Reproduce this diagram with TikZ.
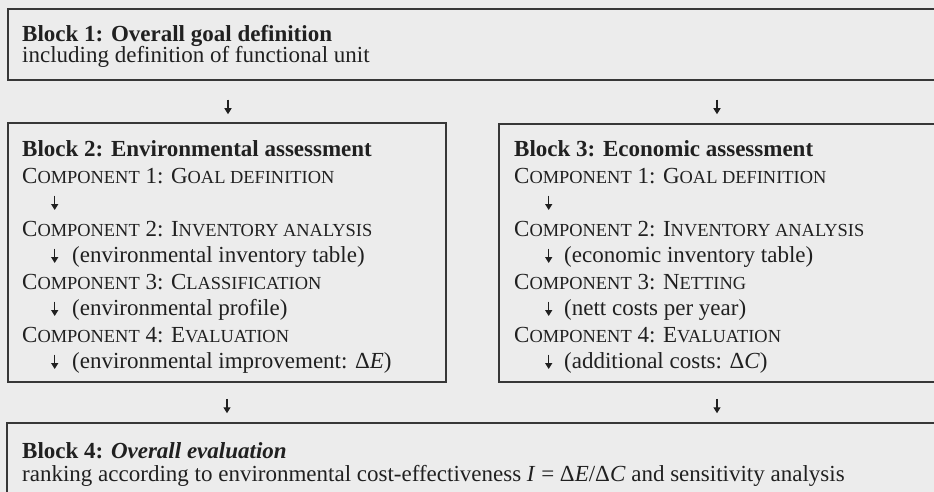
\documentclass[tikz,border=0pt]{standalone}
\usepackage{fontspec}
\setmainfont{Liberation Serif}
\usetikzlibrary{arrows.meta}
\definecolor{bg}{RGB}{236,236,236}
\definecolor{ink}{RGB}{32,32,32}
\definecolor{edge}{RGB}{55,55,55}
\newcommand\sm[1]{{\fontsize{18.4}{20}\selectfont #1}}
\newcommand\dar{\tikz[baseline=0pt]\draw[ink,line width=1.4pt,-{Triangle[length=6pt,width=7pt]}] (0pt,14pt) -- (0pt,-0.5pt);}
\tikzset{
  blockbox/.style={draw=edge,line width=1.5pt,inner sep=0pt,outer sep=0pt,anchor=north west},
  txt/.style={anchor=base west,inner sep=0pt,text=ink},
  arrnode/.style={inner sep=0pt,anchor=center}
}
\begin{document}
\begin{tikzpicture}[x=1pt,y=-1pt,font=\fontsize{23}{26}\selectfont]
\path[use as bounding box,fill=bg] (0,0) rectangle (934,492);
% boxes
\node[blockbox,minimum width=932pt,minimum height=71pt] (b1) at (8,9) {};
\node[blockbox,minimum width=438pt,minimum height=259pt] (b2) at (8,123) {};
\node[blockbox,minimum width=441pt,minimum height=258pt] (b3) at (499,124) {};
\node[blockbox,minimum width=933pt,minimum height=80pt] (b4) at (7,423) {};
% block 1 text
\node[txt] (b1t) at (22,42) {\textbf{Block 1: Overall goal definition}};
\node[txt] (b1s) at (22,63) {including definition of functional unit};
% block 2 text
\node[txt] (b2t) at (22,156.5) {\textbf{Block 2: Environmental assessment}};
\node[txt] (b2c1) at (22,183) {C\sm{OMPONENT} 1: G\sm{OAL DEFINITION}};
\node[txt] (b2a1) at (51,209.5) {\dar};
\node[txt] (b2c2) at (22,236) {C\sm{OMPONENT} 2: I\sm{NVENTORY ANALYSIS}};
\node[txt] (b2a2) at (51,262.5) {\dar\hspace{14pt}(environmental inventory table)};
\node[txt] (b2c3) at (22,289) {C\sm{OMPONENT} 3: C\sm{LASSIFICATION}};
\node[txt] (b2a3) at (51,315.5) {\dar\hspace{14pt}(environmental profile)};
\node[txt] (b2c4) at (22,342) {C\sm{OMPONENT} 4: E\sm{VALUATION}};
\node[txt] (b2a4) at (51,368.5) {\dar\hspace{14pt}(environmental improvement: Δ\textit{E})};
% block 3 text
\node[txt] (b3t) at (514,156.5) {\textbf{Block 3: Economic assessment}};
\node[txt] (b3c1) at (514,183) {C\sm{OMPONENT} 1: G\sm{OAL DEFINITION}};
\node[txt] (b3a1) at (545,209.5) {\dar};
\node[txt] (b3c2) at (514,236) {C\sm{OMPONENT} 2: I\sm{NVENTORY ANALYSIS}};
\node[txt] (b3a2) at (545,262.5) {\dar\hspace{12pt}(economic inventory table)};
\node[txt] (b3c3) at (514,289) {C\sm{OMPONENT} 3: N\sm{ETTING}};
\node[txt] (b3a3) at (545,315.5) {\dar\hspace{12pt}(nett costs per year)};
\node[txt] (b3c4) at (514,342) {C\sm{OMPONENT} 4: E\sm{VALUATION}};
\node[txt] (b3a4) at (545,368.5) {\dar\hspace{12pt}(additional costs: Δ\textit{C})};
% block 4 text
\node[txt] (b4t) at (22,458) {\textbf{Block 4: \textit{Overall evaluation}}};
\node[txt] (b4s) at (22,481) {ranking according to environmental cost-effectiveness \textit{I} = Δ\textit{E}/Δ\textit{C} and sensitivity analysis};
% arrows between blocks
\node[arrnode] (a12) at (228,107) {\dar};
\node[arrnode] (a13) at (717,107) {\dar};
\node[arrnode] (a24) at (227,406) {\dar};
\node[arrnode] (a34) at (717,406) {\dar};
\end{tikzpicture}
\end{document}
